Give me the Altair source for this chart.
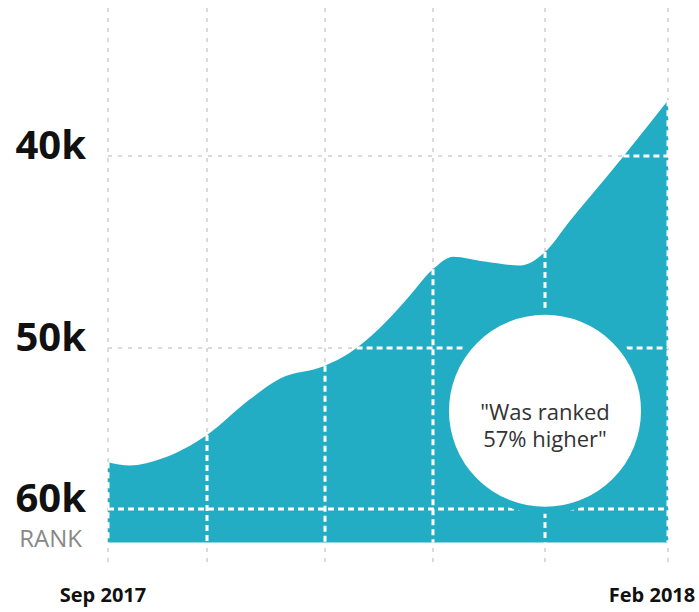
import altair as alt
import pandas as pd
import numpy as np

# ---- data ----
months = [0, 0.22, 0.53, 1, 1.36, 1.62, 2, 2.23, 2.5, 2.75, 3, 3.18, 3.46, 3.78, 4, 4.2, 4.5, 5]
rank = [57100, 57300, 56900, 55400, 53200, 51900, 51100, 50300, 49000, 47500,
        45900, 45250, 45500, 45700, 45000, 43400, 41100, 37100]
grid_months = [0, 1, 2, 3, 4, 5]
rank_ticks = [40000, 50000, 60000]
tick_labels = ["40k", "50k", "60k"]
x_label_left = "Sep 2017"
x_label_right = "Feb 2018"
axis_title = "RANK"
baseline_rank = 62100
rank_top, rank_bottom = 32300, 63500
note_text = "\"Was ranked\n57% higher\""
note_month, note_rank = 4, 53900

TEAL = "#22adc4"
GRAY = "#dadada"
FONT = "Open Sans"

xs = alt.Scale(domain=[0, 1, 2, 3, 4, 5], range=[0, 99, 217, 325, 437, 560], nice=False, zero=False)
ys = alt.Scale(domain=[rank_top, 40000, 50000, 60000, rank_bottom], range=[0, 148, 340, 501, 557],
               nice=False, zero=False)

curve = pd.DataFrame({"m": months, "r": rank, "base": baseline_rank})

vgrid = pd.DataFrame({"m": grid_months, "top": rank_top, "bot": rank_bottom})
hgrid = pd.DataFrame({"r": rank_ticks, "x0": grid_months[0], "x1": grid_months[-1], "label": tick_labels})

# white gridline pieces inside the area
vwhite = curve[curve["m"].isin(grid_months)].copy()


def crossing(level):
    for i in range(len(months) - 1):
        a, b = rank[i], rank[i + 1]
        if a >= level > b:
            return months[i] + (months[i + 1] - months[i]) * (a - level) / (a - b)
    return months[0]


hwhite = pd.DataFrame({"r": rank_ticks, "x0": [crossing(v) for v in rank_ticks], "x1": grid_months[-1]})

X = lambda f: alt.X(f, type="quantitative", scale=xs, axis=None)
Y = lambda f: alt.Y(f, type="quantitative", scale=ys, axis=None)

g_v = alt.Chart(vgrid).mark_rule(color=GRAY, strokeWidth=2, strokeDash=[4, 6]).encode(
    x=X("m"), y=Y("top"), y2="bot")
g_h = alt.Chart(hgrid).mark_rule(color=GRAY, strokeWidth=2, strokeDash=[4, 6]).encode(
    x=X("x0"), x2="x1", y=Y("r"))
area = alt.Chart(curve).mark_area(interpolate="monotone", color=TEAL, opacity=1).encode(
    x=X("m"), y=Y("r"), y2="base")
w_v = alt.Chart(vwhite).mark_rule(color="white", strokeWidth=3, strokeDash=[6, 4]).encode(
    x=X("m"), y=Y("r"), y2="base")
w_h = alt.Chart(hwhite).mark_rule(color="white", strokeWidth=3, strokeDash=[6, 4]).encode(
    x=X("x0"), x2="x1", y=Y("r"))

note_df = pd.DataFrame({"m": [note_month], "r": [note_rank], "t": [note_text]})
circle = alt.Chart(note_df).mark_point(shape="circle", filled=True, fill="white", stroke=TEAL,
                                       strokeWidth=7, size=39601, opacity=1).encode(
    x=X("m"), y=Y("r"))
note = alt.Chart(note_df).mark_text(font=FONT, fontSize=22, color="#333333", lineBreak="\n",
                                    lineHeight=27, align="center", baseline="middle", dy=2).encode(
    x=X("m"), y=Y("r"), text="t")

ylab = alt.Chart(hgrid).mark_text(font=FONT, fontSize=40, fontWeight="bold", color="#111111",
                                  align="right", baseline="alphabetic", dy=3).encode(
    x=alt.value(-22), y=Y("r"), text="label")
rank_df = pd.DataFrame({"r": [rank_ticks[-1]], "t": [axis_title]})
ranklab = alt.Chart(rank_df).mark_text(font=FONT, fontSize=24, color="#888888", align="right",
                                       baseline="alphabetic", dy=38).encode(
    x=alt.value(-26), y=Y("r"), text="t")

xl_df = pd.DataFrame({"m": [grid_months[0]], "t": [x_label_left]})
xr_df = pd.DataFrame({"m": [grid_months[-1]], "t": [x_label_right]})
xl = alt.Chart(xl_df).mark_text(font=FONT, fontSize=20, fontWeight="bold", color="#111111",
                                align="center", baseline="alphabetic", dx=-5).encode(
    x=X("m"), y=alt.value(594), text="t")
xr = alt.Chart(xr_df).mark_text(font=FONT, fontSize=20, fontWeight="bold", color="#111111",
                                align="center", baseline="alphabetic", dx=-16).encode(
    x=X("m"), y=alt.value(594), text="t")

chart = alt.layer(g_v, g_h, area, w_v, w_h, circle, note, ylab, ranklab, xl, xr).properties(
    width=560, height=557,
    padding={"left": 108, "top": 8, "right": 31, "bottom": 47},
    autosize=alt.AutoSizeParams(type="none"),
    background="white",
).configure_view(stroke=None)

chart.save("out.html", embed_options={"renderer": "svg", "actions": False})
